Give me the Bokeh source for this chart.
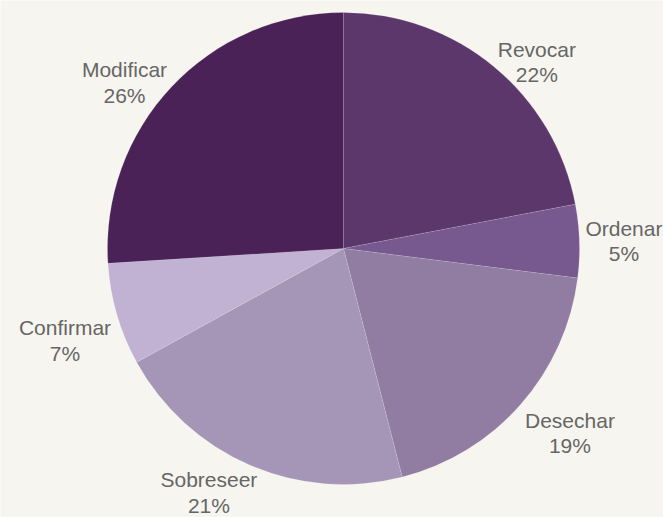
import math
from bokeh.plotting import figure
from bokeh.models import ColumnDataSource, Range1d
from bokeh.embed import file_html
from bokeh.resources import INLINE
from bokeh.core.properties import value

# ---- data ----
categories = ["Revocar", "Ordenar", "Desechar", "Sobreseer", "Confirmar", "Modificar"]
percents = [22, 5, 19, 21, 7, 26]
colors = ["#5b376c", "#77588f", "#917ca2", "#a595b7", "#c1b1d3", "#4a2258"]

# ---- layout ----
W, H = 663, 517
BG = "#f7f5ef"
cx, cy = 343, H - 248
R = 236
PAD = 6
FONT_PX = 21
LINE_H = 1.12

# Arial/Liberation Sans advance widths (per 1000 em)
AW = {"R": 722, "e": 556, "v": 500, "o": 556, "c": 500, "a": 556, "r": 333, "O": 778,
      "d": 556, "n": 556, "D": 722, "s": 500, "h": 556, "S": 667, "b": 556, "C": 722,
      "f": 278, "i": 222, "m": 833, "M": 833, "%": 889}


def text_w(s):
    return sum(AW.get(ch, 556) for ch in s) * FONT_PX / 1000.0


block_h = 2 * FONT_PX * LINE_H + 2
total = float(sum(percents))
starts, ends, lx, ly, lbl, base = [], [], [], [], [], []
acc = 0.0
for cat, pct in zip(categories, percents):
    f0 = acc / total
    acc += pct
    f1 = acc / total
    starts.append(math.pi / 2 - f0 * 2 * math.pi)
    ends.append(math.pi / 2 - f1 * 2 * math.pi)
    th = (f0 + f1) / 2 * 2 * math.pi  # clockwise from top
    s, c = math.sin(th), math.cos(th)
    px = cx + (R + PAD) * s
    py = cy + (R + PAD) * c
    w = max(text_w(cat), text_w(f"{pct}%"))
    k = max(-1.0, min(1.0, s / 0.5))
    lx.append(px + k * w / 2)
    if c < -0.2:
        base.append("top")
        py = max(py, block_h)  # keep the block inside the canvas
    else:
        base.append("middle")
    ly.append(py)
    lbl.append(f"{cat}\n{pct}%")

src = ColumnDataSource(dict(start=starts, end=ends, color=colors))
lsrc = ColumnDataSource(dict(x=lx, y=ly, text=lbl, base=base))

p = figure(width=W, height=H, output_backend="svg", toolbar_location=None,
           x_range=Range1d(0, W), y_range=Range1d(0, H),
           x_axis_location=None, y_axis_location=None, min_border=0)
p.grid.visible = False
p.outline_line_color = None
p.background_fill_color = BG
p.border_fill_color = BG

p.wedge(x=cx, y=cy, radius=R, start_angle="start", end_angle="end", direction="clock",
        fill_color="color", line_color="#ffffff", line_alpha=0.12, line_width=1, source=src)

p.text(x="x", y="y", text="text", source=lsrc, text_align="center", text_baseline="base",
       text_font=value("Liberation Sans"), text_font_size=f"{FONT_PX}px",
       text_color="#666666", text_line_height=LINE_H)

html = file_html(p, INLINE)
html = html.replace("<body>", f'<body style="background:{BG};">', 1)
open("out.html", "w").write(html)
